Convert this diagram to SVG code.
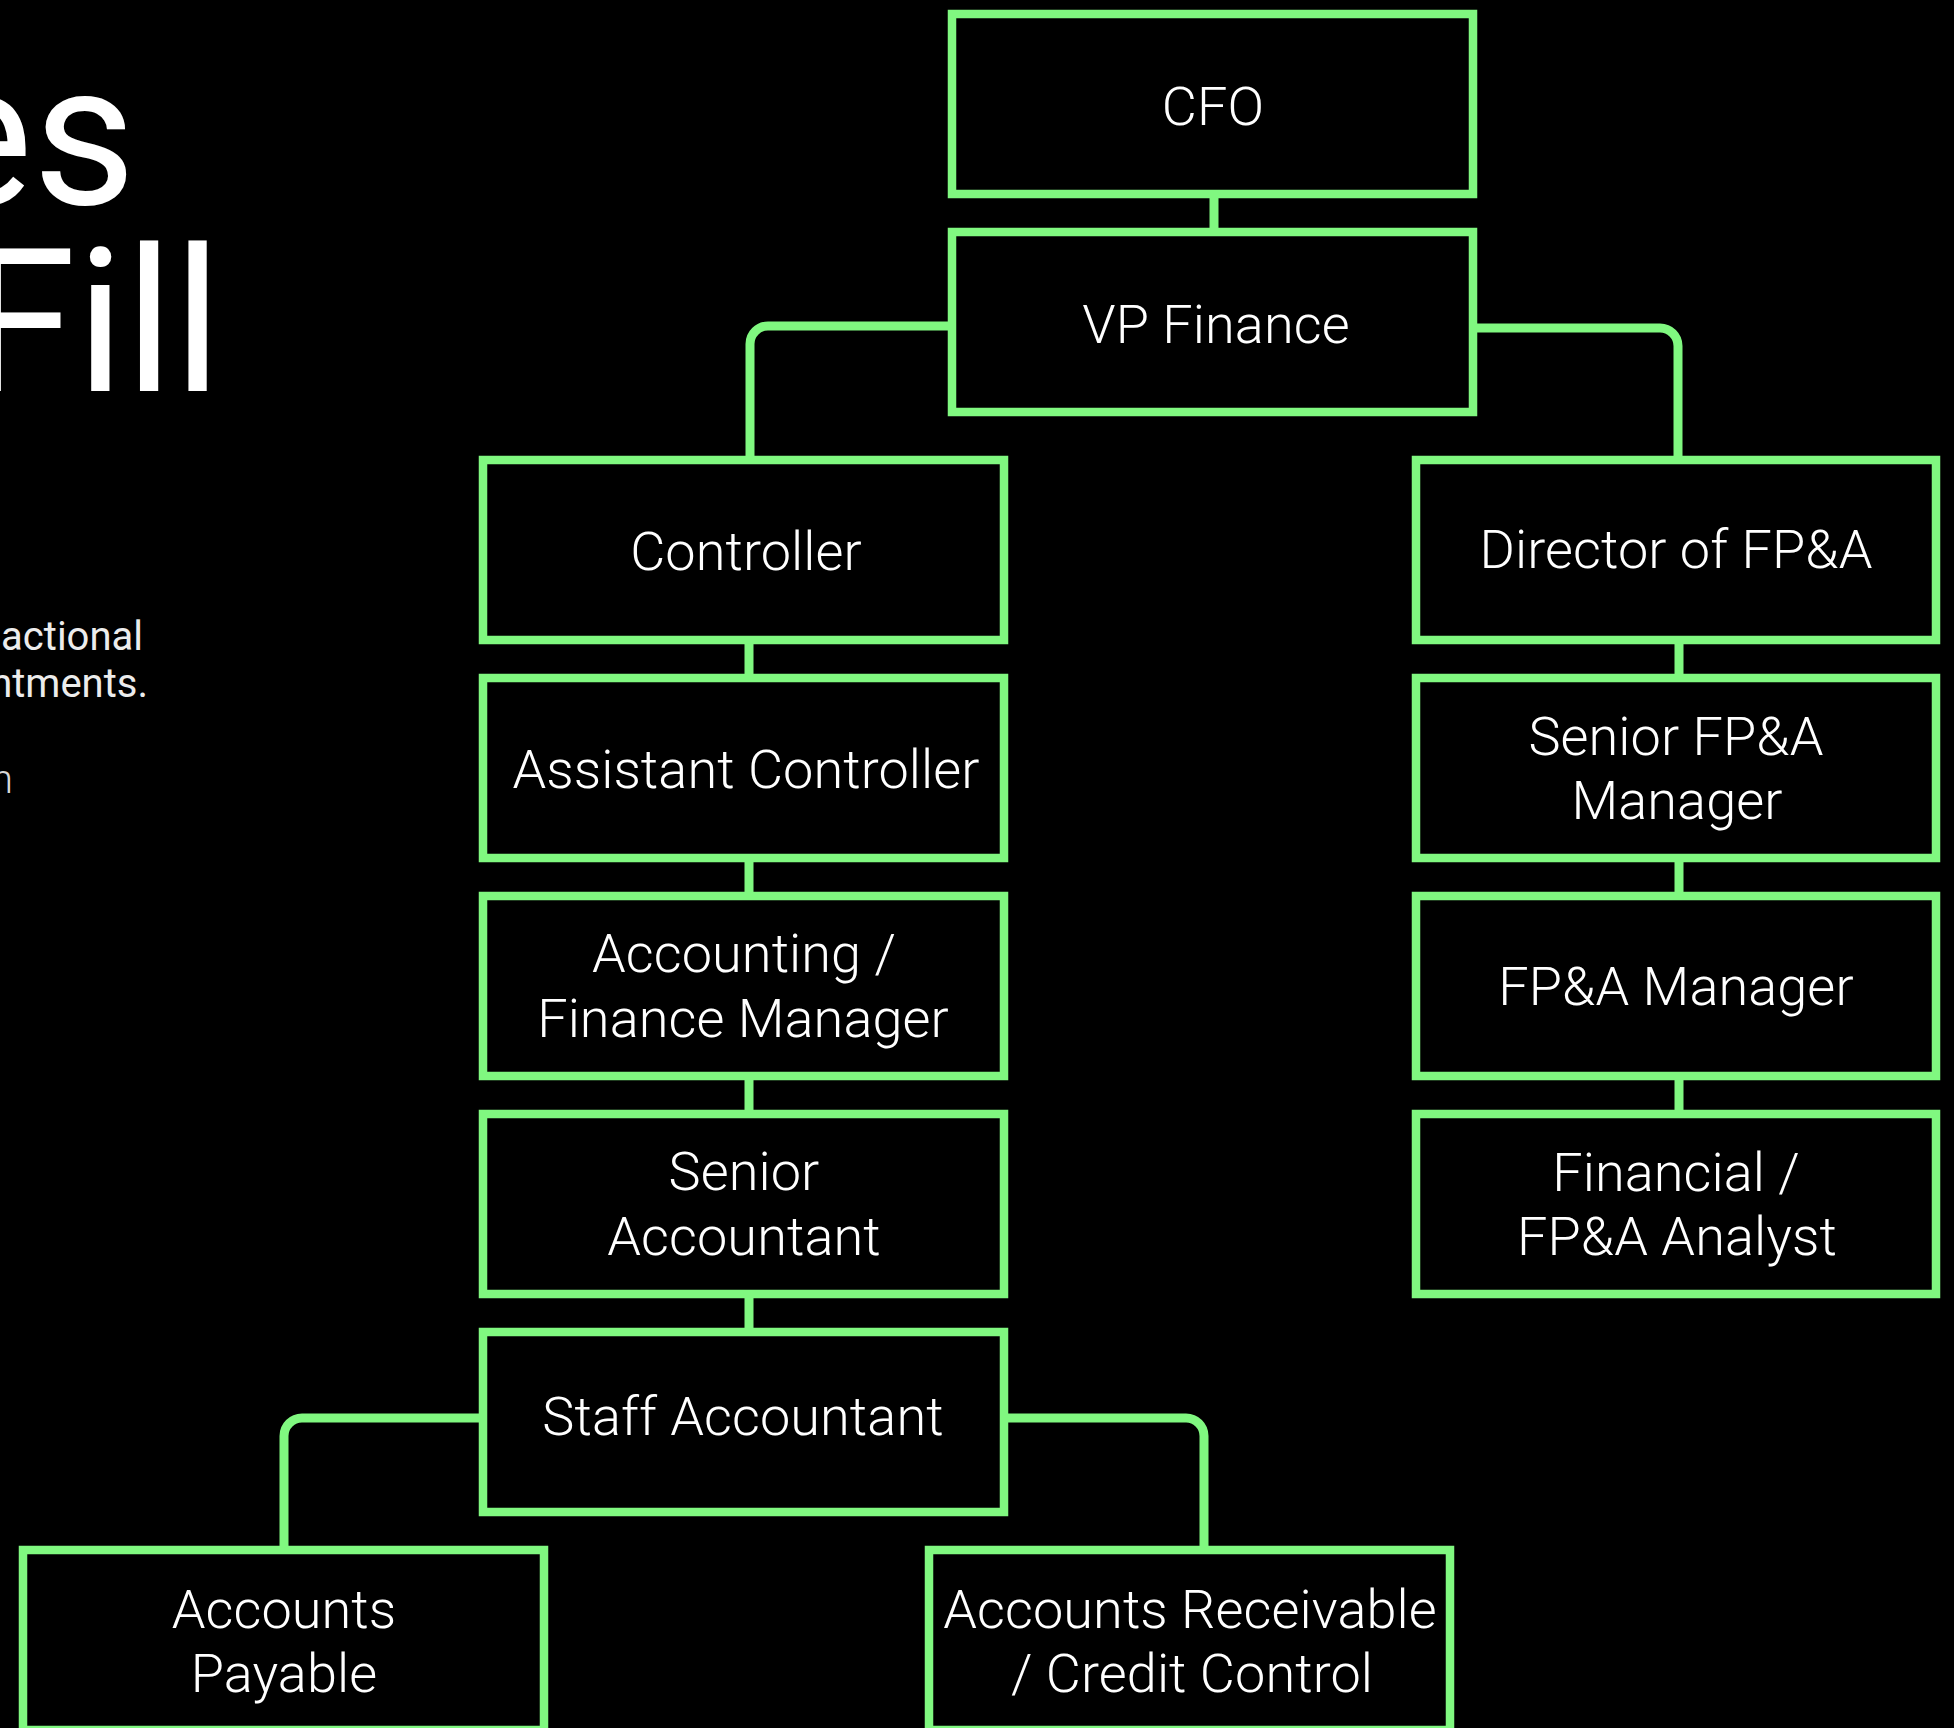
<svg xmlns="http://www.w3.org/2000/svg" width="1954" height="1728" viewBox="0 0 1954 1728">
<style>
.bg{fill:#000}
.box{fill:#000;stroke:#80F880;stroke-width:8.5}
.conn{fill:none;stroke:#80F880;stroke-width:9}
.lbl{font-family:Roboto,"Liberation Sans",sans-serif;font-weight:300;font-size:54px;letter-spacing:0.1px;fill:#fff;text-anchor:middle}
.title{font-family:Roboto,"Liberation Sans",sans-serif;font-weight:400;font-size:200px;fill:#fff;text-anchor:end}
.body{font-family:Roboto,"Liberation Sans",sans-serif;font-weight:400;font-size:40px;fill:#ececec;text-anchor:end}
.body2{font-family:Roboto,"Liberation Sans",sans-serif;font-weight:300;font-size:40px;fill:#d8d8d8;text-anchor:end}
</style>
<rect class="bg" x="0" y="0" width="1954" height="1728"/>
<g id="intro">
<text class="title" x="136" y="204">es</text>
<text class="title" x="222" y="391">Fill</text>
<text class="body" x="143" y="650">actional</text>
<text class="body" x="148" y="697">ntments.</text>
<text class="body2" x="13" y="793">n</text>
</g>
<g id="connectors">
<path class="conn" d="M1214 198 V228"/>
<path class="conn" d="M948 326 H768 A18 18 0 0 0 750 344 V456"/>
<path class="conn" d="M1477 328 H1660 A18 18 0 0 1 1678 346 V456"/>
<path class="conn" d="M749 644 V674"/>
<path class="conn" d="M749 862 V892"/>
<path class="conn" d="M749 1080 V1110"/>
<path class="conn" d="M749 1298 V1328"/>
<path class="conn" d="M1679 644 V674"/>
<path class="conn" d="M1679 862 V892"/>
<path class="conn" d="M1679 1080 V1110"/>
<path class="conn" d="M479 1418 H302 A18 18 0 0 0 284 1436 V1546"/>
<path class="conn" d="M1008 1418 H1186 A18 18 0 0 1 1204 1436 V1546"/>
</g>
<g id="cfo"><rect class="box" x="952" y="14" width="521" height="180"/><text class="lbl" x="1213" y="125">CFO</text></g>
<g id="vp-finance"><rect class="box" x="952" y="232" width="521" height="180"/><text class="lbl" x="1216" y="343">VP Finance</text></g>
<g id="controller"><rect class="box" x="483" y="460" width="521" height="180"/><text class="lbl" x="746" y="570">Controller</text></g>
<g id="assistant-controller"><rect class="box" x="483" y="678" width="521" height="180"/><text class="lbl" x="746" y="788">Assistant Controller</text></g>
<g id="accounting-finance-manager"><rect class="box" x="483" y="896" width="521" height="180"/><text class="lbl" x="744" y="972">Accounting /</text><text class="lbl" x="743" y="1037">Finance Manager</text></g>
<g id="senior-accountant"><rect class="box" x="483" y="1114" width="521" height="180"/><text class="lbl" x="744" y="1190">Senior</text><text class="lbl" x="744" y="1255">Accountant</text></g>
<g id="staff-accountant"><rect class="box" x="483" y="1332" width="521" height="180"/><text class="lbl" x="743" y="1435">Staff Accountant</text></g>
<g id="accounts-payable"><rect class="box" x="23" y="1550" width="521" height="180"/><text class="lbl" x="284" y="1628">Accounts</text><text class="lbl" x="284" y="1692">Payable</text></g>
<g id="accounts-receivable"><rect class="box" x="929" y="1550" width="521" height="180"/><text class="lbl" x="1190" y="1628">Accounts Receivable</text><text class="lbl" x="1192" y="1692">/ Credit Control</text></g>
<g id="director-fpa"><rect class="box" x="1416" y="460" width="520" height="180"/><text class="lbl" x="1676" y="568">Director of FP&amp;A</text></g>
<g id="senior-fpa-manager"><rect class="box" x="1416" y="678" width="520" height="180"/><text class="lbl" x="1676" y="755">Senior FP&amp;A</text><text class="lbl" x="1677" y="819">Manager</text></g>
<g id="fpa-manager"><rect class="box" x="1416" y="896" width="520" height="180"/><text class="lbl" x="1676" y="1005">FP&amp;A Manager</text></g>
<g id="financial-analyst"><rect class="box" x="1416" y="1114" width="520" height="180"/><text class="lbl" x="1676" y="1191">Financial /</text><text class="lbl" x="1677" y="1255">FP&amp;A Analyst</text></g>
</svg>
